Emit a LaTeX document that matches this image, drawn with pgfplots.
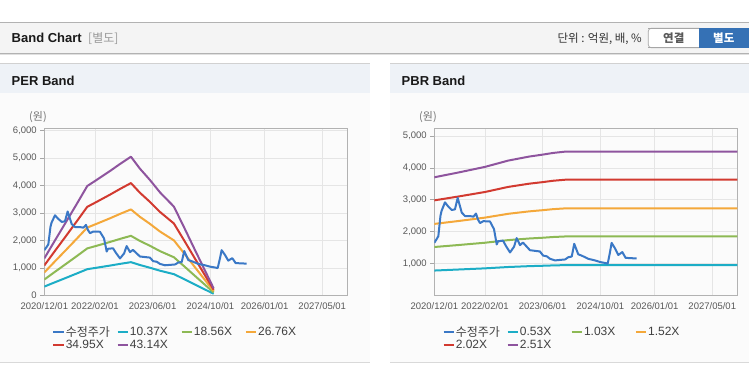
\documentclass[border=0pt]{standalone}
\usepackage{fontspec}
\setmainfont{Liberation Sans}
\newfontfamily\kr{Noto Sans CJK KR}
\usepackage{pgfplots}
\usepackage{pgfplotstable}
\pgfplotsset{compat=1.18}
\definecolor{cPrice}{HTML}{3A78C6}
\definecolor{cTeal}{HTML}{1CADC6}
\definecolor{cGreen}{HTML}{8DB954}
\definecolor{cOrange}{HTML}{F4A83A}
\definecolor{cRed}{HTML}{D23A30}
\definecolor{cPurple}{HTML}{8E549E}
\definecolor{hdr}{HTML}{F4F4F4}
\definecolor{ttl}{HTML}{EEF2F7}
\definecolor{bodyc}{HTML}{FBFBFB}
\definecolor{btn}{HTML}{3571B5}

\pgfplotstableread{
day price
0 1650
20 1770
34 1860
52 2500
61 2650
90 2920
115 2800
147 2680
174 2700
197 3060
231 2600
259 2490
301 2490
330 2470
351 2570
368 2380
385 2270
413 2330
469 2320
503 2080
526 1600
537 1700
579 1720
604 1550
638 1350
672 1530
694 1800
722 1580
747 1660
806 1420
890 1380
917 1250
947 1230
975 1150
1017 1100
1102 1130
1129 1200
1158 1220
1179 1620
1213 1290
1242 1250
1297 1150
1354 1100
1396 1050
1438 1020
1461 1000
1480 1350
1494 1650
1522 1480
1550 1270
1584 1360
1612 1180
1705 1160
}\price

\pgfplotstableread{
day t10 t18 t26 t34 t43
0 325 581 838 1094 1350
90 482 863 1244 1625 2006
183 643 1151 1659 2167 2675
275 804 1438 2074 2709 3344
362 958 1715 2473 3229 3986
433 1006 1800 2596 3390 4185
553 1089 1949 2810 3670 4530
638 1151 2060 2970 3879 4789
730 1214 2173 3134 4093 5052
806 1110 1986 2863 3740 4616
890 1011 1810 2609 3408 4206
975 902 1615 2328 3041 3753
1092 778 1392 2007 2621 3236
1185 581 1039 1499 1957 2416
1270 397 711 1025 1339 1652
1354 218 390 562 734 906
1427 62 111 161 210 259
}\per

\pgfplotstableread{
day b053 b103 b152 b202 b251
0 782 1520 2244 2982 3705
200 814 1581 2333 3101 3853
427 851 1654 2441 3244 4031
623 893 1736 2561 3404 4229
800 920 1787 2637 3505 4355
912 932 1810 2674 3553 4415
1000 943 1833 2706 3596 4468
1100 952 1850 2730 3628 4508
2553 952 1850 2730 3628 4508
}\pbr

\pgfplotsset{
  bandaxis/.style={
    scale only axis,
    width=303pt,
    xmin=0, xmax=2553, ymin=0,
    xtick={0,427,912,1400,1857,2342},
    xticklabels={2020/12/01,2022/02/01,2023/06/01,2024/10/01,2026/01/01,2027/05/01},
    /pgf/number format/assume math mode=true,
    /pgf/number format/1000 sep={,},
    scaled y ticks=false,
    tick label style={font=\fontsize{9.5}{11}\selectfont, text=black!65},
    xticklabel style={yshift=-3.5pt},
    grid=major,
    grid style={color=black!10, line width=0.6pt},
    axis line style={color=black!30, line width=0.8pt},
    xtick style={draw=none},
    ytick style={color=black!35, line width=0.6pt},
    ytick align=outside,
    major tick length=4pt,
    tick pos=left,
    legend image code/.code={\draw[#1,line width=2pt] (0pt,0pt) -- (10pt,0pt);},
    legend columns=4,
    legend cell align=left,
    legend style={at={(0,0)}, anchor=north west, xshift=8pt, yshift=-29.5pt,
      draw=none, fill=none, inner sep=0pt, row sep=0pt,
      font=\fontsize{12}{13}\selectfont, text=black!75,
      nodes={inner sep=1.3pt}},
  },
  lp/.style={color=cPrice, line width=2pt, line join=round},
  l1/.style={color=cTeal, line width=2pt, line join=round},
  l2/.style={color=cGreen, line width=2pt, line join=round},
  l3/.style={color=cOrange, line width=2pt, line join=round},
  l4/.style={color=cRed, line width=2pt, line join=round},
  l5/.style={color=cPurple, line width=2pt, line join=round},
}

\begin{document}
\begin{tikzpicture}
\useasboundingbox (0pt,0pt) rectangle (749pt,364pt);
\fill[white] (0pt,0pt) rectangle (749pt,364pt);
% header
\fill[hdr] (0pt,311pt) rectangle (749pt,341.5pt);
\draw[black!30, line width=0.9pt] (0pt,341.7pt) -- (749pt,341.7pt);
\draw[black!12, line width=2pt] (0pt,309.6pt) -- (749pt,309.6pt);
\draw[black!30, line width=0.8pt] (0pt,311pt) -- (749pt,311pt);
\node[anchor=west, inner sep=0pt, font=\fontsize{13}{15}\selectfont\bfseries, text=black!90] at (11.5pt,325.8pt) {Band Chart};
\node[anchor=west, inner sep=0pt, font=\kr\fontsize{12}{14}\selectfont, text=black!40] at (88pt,325.6pt) {[별도]};
\node[anchor=east, inner sep=0pt, font=\kr\fontsize{11.5}{13}\selectfont, text=black!80] at (642pt,325.4pt) {단위 : 억원, 배, \%};
\draw[black!35, fill=white, rounded corners=3pt, line width=0.7pt] (699.3pt,316.3pt) -- (648.3pt,316.3pt) -- (648.3pt,335.7pt) -- (699.3pt,335.7pt);
\draw[black!35, line width=0.7pt] (648.3pt,316.3pt) -- (699.3pt,316.3pt) (648.3pt,335.7pt) -- (699.3pt,335.7pt);
\fill[btn] (699.3pt,316.3pt) rectangle (749pt,335.7pt);
\node[inner sep=0pt, font=\kr\fontsize{11.5}{13}\selectfont\bfseries, text=black!65] at (673.8pt,326pt) {연결};
\node[inner sep=0pt, font=\kr\fontsize{11.5}{13}\selectfont\bfseries, text=white] at (723.8pt,326pt) {별도};
% panels
\fill[bodyc] (0pt,1.5pt) rectangle (370pt,271.3pt);
\fill[ttl] (0pt,271.3pt) rectangle (370pt,299.6pt);
\draw[black!18, line width=1pt] (0pt,300pt) -- (370pt,300pt);
\draw[black!15, line width=1pt] (0pt,1.3pt) -- (370pt,1.3pt);
\fill[bodyc] (390pt,1.5pt) rectangle (749pt,271.3pt);
\fill[ttl] (390pt,271.3pt) rectangle (749pt,299.6pt);
\draw[black!18, line width=1pt] (390pt,300pt) -- (749pt,300pt);
\draw[black!15, line width=1pt] (390pt,1.3pt) -- (749pt,1.3pt);
\node[anchor=west, inner sep=0pt, font=\fontsize{13}{15}\selectfont\bfseries, text=black!90] at (11.5pt,283.6pt) {PER Band};
\node[anchor=west, inner sep=0pt, font=\fontsize{13}{15}\selectfont\bfseries, text=black!90] at (401.5pt,283.6pt) {PBR Band};
\node[anchor=west, inner sep=0pt, font=\kr\fontsize{11}{13}\selectfont, text=black!55] at (29pt,247pt) {(원)};
\node[anchor=west, inner sep=0pt, font=\kr\fontsize{11}{13}\selectfont, text=black!55] at (419pt,247pt) {(원)};

% PER axis
\begin{axis}[bandaxis, at={(44.3pt,68.5pt)}, anchor=south west,
  height=167pt, ymax=6080, ytick={0,1000,2000,3000,4000,5000,6000}]
\addlegendimage{lp}\addlegendentry{\makebox[49.5pt][l]{\kr 수정주가}}
\addplot[l1] table[x=day,y=t10] {\per}; \addlegendentry{\makebox[49.5pt][l]{10.37X}}
\addplot[l2] table[x=day,y=t18] {\per}; \addlegendentry{\makebox[49.5pt][l]{18.56X}}
\addplot[l3] table[x=day,y=t26] {\per}; \addlegendentry{\makebox[49.5pt][l]{26.76X}}
\addplot[l4] table[x=day,y=t34] {\per}; \addlegendentry{\makebox[49.5pt][l]{34.95X}}
\addplot[l5] table[x=day,y=t43] {\per}; \addlegendentry{\makebox[49.5pt][l]{43.14X}}
\addplot[lp, forget plot] table[x=day,y=price] {\price};
\end{axis}

% PBR axis
\begin{axis}[bandaxis, at={(434.3pt,68.5pt)}, anchor=south west,
  height=167.5pt, ymax=5250, ytick={1000,2000,3000,4000,5000}]
\addlegendimage{lp}\addlegendentry{\makebox[49.5pt][l]{\kr 수정주가}}
\addplot[l1] table[x=day,y=b053] {\pbr}; \addlegendentry{\makebox[49.5pt][l]{0.53X}}
\addplot[l2] table[x=day,y=b103] {\pbr}; \addlegendentry{\makebox[49.5pt][l]{1.03X}}
\addplot[l3] table[x=day,y=b152] {\pbr}; \addlegendentry{\makebox[49.5pt][l]{1.52X}}
\addplot[l4] table[x=day,y=b202] {\pbr}; \addlegendentry{\makebox[49.5pt][l]{2.02X}}
\addplot[l5] table[x=day,y=b251] {\pbr}; \addlegendentry{\makebox[49.5pt][l]{2.51X}}
\addplot[lp, forget plot] table[x=day,y=price] {\price};
\end{axis}
\end{tikzpicture}
\end{document}
